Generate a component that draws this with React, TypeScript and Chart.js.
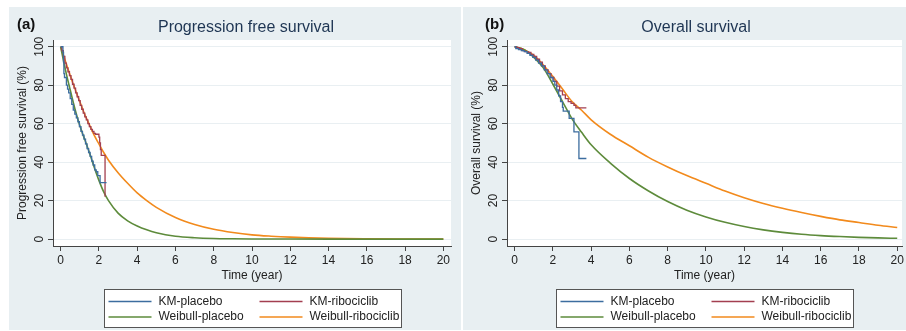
import React, { useEffect, useRef } from 'react';
import { Chart, registerables } from 'chart.js';

Chart.register(...registerables);

const FONT = "'Liberation Sans', Arial, Helvetica, sans-serif";
Chart.defaults.font.family = FONT;

// ---------- shared ----------
const xTicks = [0, 2, 4, 6, 8, 10, 12, 14, 16, 18, 20];
const yTicks = [0, 20, 40, 60, 80, 100];
const legendLabels = ['KM-placebo', 'KM-ribociclib', 'Weibull-placebo', 'Weibull-ribociclib'];
const seriesColors = ['#3c6d9f', '#a33f50', '#5d8b3b', '#f28a1c'];

// ---------- (a) Progression free survival ----------
const pfsWeibullTime = [0, 0.25, 0.5, 0.75, 1, 1.25, 1.5, 1.75, 2, 2.25, 2.5, 3, 3.5, 4, 4.5, 5, 6, 7, 8, 9, 10, 11, 12, 14, 16, 18, 20];
const pfsWeibullPlacebo = [100, 88, 77.5, 67.5, 59, 52, 45, 37.5, 30.5, 24.5, 20, 13.5, 9.5, 6.8, 4.8, 3.3, 1.5, 0.7, 0.3, 0.15, 0.07, 0.03, 0.01, 0, 0, 0, 0];
const pfsWeibullRibociclib = [100, 92.5, 85, 78, 71.5, 65, 59.5, 54, 49.5, 45, 41, 34.5, 29, 24, 20, 16.5, 11.2, 7.6, 5.1, 3.4, 2.2, 1.5, 1, 0.4, 0.15, 0.05, 0];

const pfsKmPlaceboTime = [0, 0.12, 0.15, 0.17, 0.2, 0.3, 0.36, 0.42, 0.5, 0.58, 0.66, 0.74, 0.82, 0.9, 0.98, 1.06, 1.14, 1.22, 1.3, 1.38, 1.46, 1.54, 1.62, 1.7, 1.78, 1.86, 1.94, 2.06, 2.4];
const pfsKmPlaceboSurv = [100, 97, 92, 86, 84, 80, 78, 76, 73, 70, 67, 65, 63, 61, 58.5, 56, 54, 52, 49.5, 47, 45, 43, 40.5, 38.5, 36, 35, 33, 29.4, 29.4];
const pfsKmRibociclibTime = [0, 0.06, 0.14, 0.22, 0.3, 0.38, 0.46, 0.54, 0.62, 0.7, 0.78, 0.86, 0.94, 1.02, 1.1, 1.18, 1.26, 1.34, 1.42, 1.5, 1.58, 1.66, 1.74, 1.82, 2.0, 2.04, 2.08, 2.12, 2.32];
const pfsKmRibociclibSurv = [100, 98, 95, 91.5, 89, 87, 85, 83, 80.5, 78.5, 76, 74, 72, 69.5, 67.5, 65.5, 63.5, 62, 60, 58.5, 57, 56, 55, 54.5, 53, 50, 46.5, 43.5, 22];

// ---------- (b) Overall survival ----------
const osWeibullTime = [0, 0.5, 1, 1.5, 2, 2.5, 3, 3.5, 4, 5, 6, 7, 8, 9, 10, 11, 12, 13, 14, 15, 16, 17, 18, 19, 20];
const osWeibullPlacebo = [100, 98.5, 94.5, 89, 80.5, 71.5, 62.5, 55.5, 49, 39.5, 31.5, 25, 19.5, 15, 11.5, 8.7, 6.5, 4.8, 3.5, 2.5, 1.8, 1.3, 0.9, 0.6, 0.4];
const osWeibullRibociclib = [100, 98.5, 95.5, 90.5, 84.5, 78, 71.5, 67, 62, 54.5, 48.5, 42.5, 37.5, 33, 29, 25, 21.5, 18.5, 16, 13.8, 11.8, 10, 8.6, 7.2, 6];

const osKmPlaceboTime = [0, 0.06, 0.2, 0.35, 0.5, 0.65, 0.8, 0.95, 1.1, 1.25, 1.4, 1.55, 1.7, 1.85, 2.0, 2.1, 2.2, 2.3, 2.4, 2.5, 2.54, 2.85, 3.1, 3.36, 3.75];
const osKmPlaceboSurv = [100, 99, 98.5, 98, 97.5, 96.5, 95.5, 94.5, 93, 91.5, 90, 88, 86, 84, 82, 80, 77.5, 74.5, 71.5, 68.5, 66.5, 62.8, 55.7, 41.9, 41.9];
const osKmRibociclibTime = [0, 0.1, 0.25, 0.4, 0.55, 0.7, 0.85, 1.0, 1.15, 1.3, 1.45, 1.6, 1.75, 1.9, 2.05, 2.2, 2.35, 2.5, 2.65, 2.8, 2.95, 3.1, 3.2, 3.75];
const osKmRibociclibSurv = [100, 99.5, 99, 98, 97.5, 97, 96, 95, 93.5, 92, 90, 88, 86, 84, 82, 79.5, 77, 75, 73, 71.5, 70.5, 69.5, 68.2, 68.2];

const PANEL_BG = '#e8eff2';
const CANVAS_H = 323;

type Series = { label: string; color: string; xs: number[]; ys: number[]; stepped: boolean; width: number };

type PanelProps = {
  left: number;
  width: number;
  rightPad: number;
  xMax: number;
  panelLabel: string;
  labelX: number;
  title: string;
  titleX: number;
  yTitle: string;
  series: Series[];
};

function Panel(props: PanelProps) {
  const ref = useRef<HTMLCanvasElement>(null);
  useEffect(() => {
    const canvas = ref.current as HTMLCanvasElement;
    const p = props;
    const decor = {
      id: 'decor',
      beforeDraw(chart: any) {
        const { ctx, chartArea: ca, width, height } = chart;
        ctx.save();
        ctx.fillStyle = PANEL_BG;
        ctx.fillRect(0, 0, width, height);
        ctx.fillStyle = '#ffffff';
        ctx.fillRect(ca.left, ca.top, ca.right - ca.left, ca.bottom - ca.top);
        ctx.restore();
      },
      afterDraw(chart: any) {
        const { ctx, chartArea: ca } = chart;
        ctx.save();
        ctx.textBaseline = 'middle';
        ctx.textAlign = 'left';
        ctx.fillStyle = '#111111';
        ctx.font = `bold 15px ${FONT}`;
        ctx.fillText(p.panelLabel, p.labelX, 18);
        ctx.font = `16px ${FONT}`;
        ctx.fillStyle = '#1e3553';
        ctx.textAlign = 'center';
        ctx.fillText(p.title, p.titleX, 21);

        // legend box
        const cx = (ca.left + ca.right) / 2;
        const bx = Math.round(cx - 148.5) + 0.5;
        const by = 282.5;
        const bw = 297;
        const bh = 38;
        ctx.fillStyle = '#ffffff';
        ctx.fillRect(bx, by, bw, bh);
        ctx.strokeStyle = '#555555';
        ctx.lineWidth = 1;
        ctx.strokeRect(bx, by, bw, bh);
        ctx.font = `12px ${FONT}`;
        ctx.textAlign = 'left';
        chart.data.datasets.forEach((ds: any, i: number) => {
          const col = i % 2;
          const row = Math.floor(i / 2);
          const lx = bx + (col ? 155 : 4);
          const ly = by + (row ? 27.5 : 12);
          ctx.strokeStyle = ds.borderColor;
          ctx.lineWidth = 1.5;
          ctx.beginPath();
          ctx.moveTo(lx, ly);
          ctx.lineTo(lx + 43, ly);
          ctx.stroke();
          ctx.fillStyle = '#222222';
          ctx.fillText(ds.label, lx + 50, ly);
        });
        ctx.restore();
      },
    };

    const chart = new Chart(canvas, {
      type: 'line',
      data: {
        datasets: p.series.map((s) => ({
          label: s.label,
          data: s.xs.map((x, i) => ({ x, y: s.ys[i] })),
          borderColor: s.color,
          backgroundColor: s.color,
          borderWidth: s.width,
          pointRadius: 0,
          pointHoverRadius: 0,
          stepped: s.stepped ? 'before' : false,
          cubicInterpolationMode: s.stepped ? 'default' : 'monotone',
          fill: false,
        })) as any,
      },
      options: {
        animation: false,
        responsive: false,
        maintainAspectRatio: false,
        events: [],
        layout: { padding: { left: 0, right: p.rightPad, top: 33, bottom: 44 } },
        plugins: {
          legend: { display: false },
          title: { display: false },
          tooltip: { enabled: false },
        },
        scales: {
          x: {
            type: 'linear',
            min: -0.4,
            max: p.xMax,
            afterBuildTicks: (s: any) => {
              s.ticks = xTicks.map((v) => ({ value: v }));
            },
            afterFit: (s: any) => {
              s.height = 40;
            },
            ticks: { autoSkip: false, maxRotation: 0, minRotation: 0, padding: 2, color: '#222222', font: { size: 12 } },
            grid: { display: true, drawOnChartArea: false, drawTicks: true, tickLength: 5, tickColor: '#444444' },
            border: { display: true, color: '#444444', width: 1 },
            title: { display: true, text: 'Time (year)', color: '#222222', font: { size: 12 }, padding: { top: 0, bottom: 3 } },
          },
          y: {
            type: 'linear',
            min: -3.6,
            max: 103.5,
            afterBuildTicks: (s: any) => {
              s.ticks = yTicks.map((v) => ({ value: v }));
            },
            afterFit: (s: any) => {
              s.width = 44;
            },
            ticks: { autoSkip: false, minRotation: 90, maxRotation: 90, crossAlign: 'center', padding: -2, color: '#222222', font: { size: 12 } },
            grid: { display: true, drawOnChartArea: true, drawTicks: true, tickLength: 5, color: '#e9eff2', tickColor: '#444444' },
            border: { display: true, color: '#444444', width: 1 },
            title: { display: true, text: p.yTitle, color: '#222222', font: { size: 12 }, padding: { top: 6, bottom: 0 } },
          },
        },
      } as any,
      plugins: [decor as any],
    });
    return () => chart.destroy();
  }, []);
  return (
    <canvas
      ref={ref}
      width={props.width}
      height={CANVAS_H}
      style={{ position: 'absolute', left: props.left, top: 7, width: props.width, height: CANVAS_H }}
    />
  );
}

function makeSeries(
  kmPT: number[], kmPS: number[], kmRT: number[], kmRS: number[],
  wT: number[], wP: number[], wR: number[]
): Series[] {
  return [
    { label: legendLabels[0], color: seriesColors[0], xs: kmPT, ys: kmPS, stepped: true, width: 1.3 },
    { label: legendLabels[1], color: seriesColors[1], xs: kmRT, ys: kmRS, stepped: true, width: 1.3 },
    { label: legendLabels[2], color: seriesColors[2], xs: wT, ys: wP, stepped: false, width: 1.6 },
    { label: legendLabels[3], color: seriesColors[3], xs: wT, ys: wR, stepped: false, width: 1.6 },
  ];
}

export default function App() {
  const pfs = makeSeries(pfsKmPlaceboTime, pfsKmPlaceboSurv, pfsKmRibociclibTime, pfsKmRibociclibSurv, pfsWeibullTime, pfsWeibullPlacebo, pfsWeibullRibociclib);
  const os = makeSeries(osKmPlaceboTime, osKmPlaceboSurv, osKmRibociclibTime, osKmRibociclibSurv, osWeibullTime, osWeibullPlacebo, osWeibullRibociclib);
  return (
    <div style={{ position: 'absolute', left: 0, top: 0, width: 906, height: 331, background: '#ffffff', overflow: 'hidden' }}>
      <Panel
        left={9}
        width={452}
        rightPad={10}
        xMax={20.4}
        panelLabel="(a)"
        labelX={8}
        title="Progression free survival"
        titleX={237}
        yTitle="Progression free survival (%)"
        series={pfs}
      />
      <Panel
        left={463}
        width={443}
        rightPad={4}
        xMax={20.25}
        panelLabel="(b)"
        labelX={22}
        title="Overall survival"
        titleX={233}
        yTitle="Overall survival (%)"
        series={os}
      />
    </div>
  );
}
